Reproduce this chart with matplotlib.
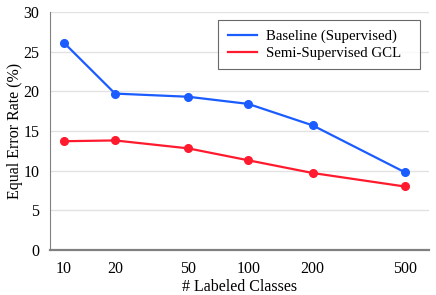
import matplotlib
matplotlib.use("Agg")
import matplotlib.pyplot as plt

plt.rcParams['font.family'] = ['Liberation Serif', 'DejaVu Serif']

# data
labeled_classes = [10, 20, 50, 100, 200, 500]
tick_labels = ['10', '20', '50', '100', '200', '500']
baseline_eer = [26.1, 19.7, 19.3, 18.4, 15.7, 9.8]
gcl_eer = [13.7, 13.8, 12.8, 11.3, 9.7, 8.0]

# x spacing in the original looks like a compressed power scale
def fwd(x):
    return x ** 0.1

def inv(y):
    return y ** 10

fig = plt.figure(figsize=(4.36, 2.95), dpi=100)
ax = fig.add_axes([0.1154, 0.1525, 0.8686, 0.8075])

ax.plot(labeled_classes, baseline_eer, color='#1a5cff', lw=1.6, marker='o', ms=5.5,
        label='Baseline (Supervised)')
ax.plot(labeled_classes, gcl_eer, color='#ff1a2e', lw=1.6, marker='o', ms=5.5,
        label='Semi-Supervised GCL')

ax.set_xscale('function', functions=(fwd, inv))
ax.set_xlim(8.24, 628)
ax.set_ylim(0, 30)
ax.set_xticks(labeled_classes)
ax.set_xticklabels(tick_labels)
ax.minorticks_off()
ax.set_yticks([0, 5, 10, 15, 20, 25, 30])

ax.grid(axis='y', color='#e2e2e2', lw=1.0)
ax.set_axisbelow(True)
for s in ['top', 'right']:
    ax.spines[s].set_visible(False)
ax.spines['left'].set_color('#808080')
ax.spines['bottom'].set_color('#808080')
ax.spines['bottom'].set_linewidth(1.6)
ax.tick_params(length=0, labelsize=11.5, pad=8)

ax.set_xlabel('# Labeled Classes', fontsize=11.5, labelpad=1)
ax.set_ylabel('Equal Error Rate (%)', fontsize=11.5, labelpad=0)

leg = ax.legend(loc='upper left', bbox_to_anchor=(0.443, 0, 0.533, 0.965), mode='expand',
                borderaxespad=0, fontsize=10.7, frameon=True, fancybox=False,
                handlelength=2.0, borderpad=0.65, labelspacing=0.2, handletextpad=0.55)
for h in leg.legend_handles:
    h.set_marker('')
leg.get_frame().set_edgecolor('#444444')
leg.get_frame().set_linewidth(0.8)

fig.savefig('out.png', dpi=100)
